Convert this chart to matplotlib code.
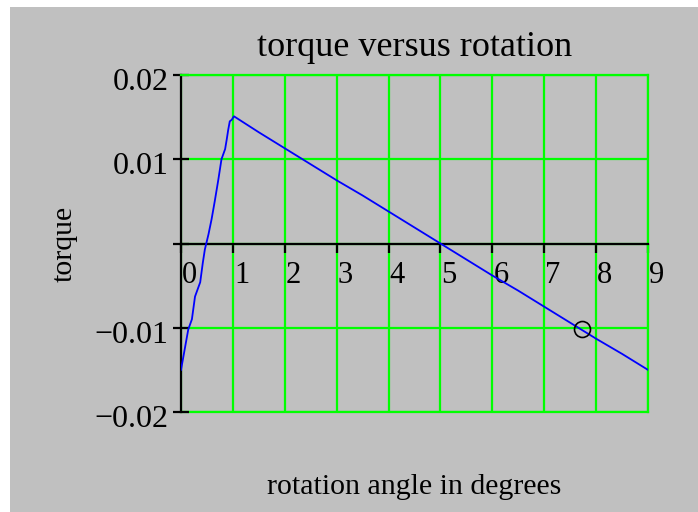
import matplotlib
matplotlib.use("Agg")
import matplotlib.pyplot as plt
from matplotlib.patches import Rectangle
from matplotlib.transforms import ScaledTranslation

# data
angle = [0.0, 0.14, 0.21, 0.27, 0.37, 0.42, 0.46, 0.53, 0.59, 0.65, 0.72, 0.78,
         0.85, 0.88, 0.91, 0.94, 0.98, 1.02,
         1.5, 2.0, 2.5, 3.0, 3.5, 4.0, 4.5, 5.0, 5.5, 6.0, 6.5, 7.0, 7.5, 8.0, 8.5, 9.0]
torque = [-0.0150, -0.0102, -0.0090, -0.0063, -0.0046, -0.0023, -0.0007, 0.0011, 0.0029,
          0.0050, 0.0076, 0.0100, 0.0112, 0.0123, 0.0135, 0.0145, 0.0147, 0.0151,
          0.0132, 0.0113, 0.0094, 0.0075, 0.0057, 0.0038, 0.0019, 0.0000, -0.0019,
          -0.0038, -0.0056, -0.0075, -0.0094, -0.0113, -0.0131, -0.0150]
marker_x = [7.73]
marker_y = [-0.0102]
xticks = [0, 1, 2, 3, 4, 5, 6, 7, 8, 9]
yticks = [-0.02, -0.01, 0.0, 0.01, 0.02]
ytick_labels = ["\u22120.02", "\u22120.01", "", "0.01", "0.02"]

W, H = 698, 512
fig = plt.figure(figsize=(W / 100, H / 100), dpi=100, facecolor="white")
fig.patches.append(Rectangle((10 / W, 0), 1, 1 - 7 / H, transform=fig.transFigure,
                             facecolor="#c0c0c0", edgecolor="none", zorder=-10))
plt.rcParams["font.family"] = ["Liberation Serif", "DejaVu Serif"]

ax = fig.add_axes([181 / W, 1 - 412 / H, (648 - 181) / W, (412 - 75) / H])
ax.set_facecolor("none")
ax.set_xlim(0, 9)
ax.set_ylim(-0.02, 0.02)

green = "#00ff00"
ax.set_xticks(xticks)
ax.set_xticklabels([str(t) for t in xticks])
ax.set_yticks(yticks)
ax.set_yticklabels(ytick_labels)
ax.grid(True, color=green, lw=1.6, zorder=0)
ax.set_axisbelow(True)

for s in ["top", "right"]:
    ax.spines[s].set_color(green)
    ax.spines[s].set_linewidth(1.6)
ax.spines["left"].set_color("black")
ax.spines["left"].set_linewidth(1.6)
ax.spines["bottom"].set_position(("data", 0))
ax.spines["bottom"].set_color("black")
ax.spines["bottom"].set_linewidth(1.6)
ax.axhline(-0.02, color=green, lw=1.6, clip_on=False, zorder=0.5)

ax.tick_params(axis="x", direction="out", length=6.5, width=1.6, pad=6,
               labelsize=22, colors="black")
ax.tick_params(axis="y", direction="inout", length=12, width=1.6, pad=3,
               labelsize=23, colors="black")

for lab in ax.get_xticklabels():
    lab.set_horizontalalignment("left")
    lab.set_transform(lab.get_transform() + ScaledTranslation(1 / 100, 0, fig.dpi_scale_trans))
for lab in ax.get_yticklabels():
    lab.set_transform(lab.get_transform() + ScaledTranslation(0, -4 / 100, fig.dpi_scale_trans))

ax.plot(angle, torque, color="#0000ff", lw=1.3, zorder=3)
ax.plot(marker_x, marker_y, marker="o", ms=11.5, mfc="none", mec="black", mew=1.2,
        ls="none", zorder=4)

fig.text((181 + 648) / 2 / W, 1 - 47 / H, "torque versus rotation", ha="center",
         va="center", fontsize=26)
fig.text((181 + 648) / 2 / W, 1 - 487 / H, "rotation angle in degrees", ha="center",
         va="center", fontsize=21.5)
fig.text(65 / W, 1 - 244 / H, "torque", ha="center", va="center", rotation=90,
         fontsize=21.5)

fig.savefig("out.png", dpi=100, facecolor=fig.get_facecolor())
